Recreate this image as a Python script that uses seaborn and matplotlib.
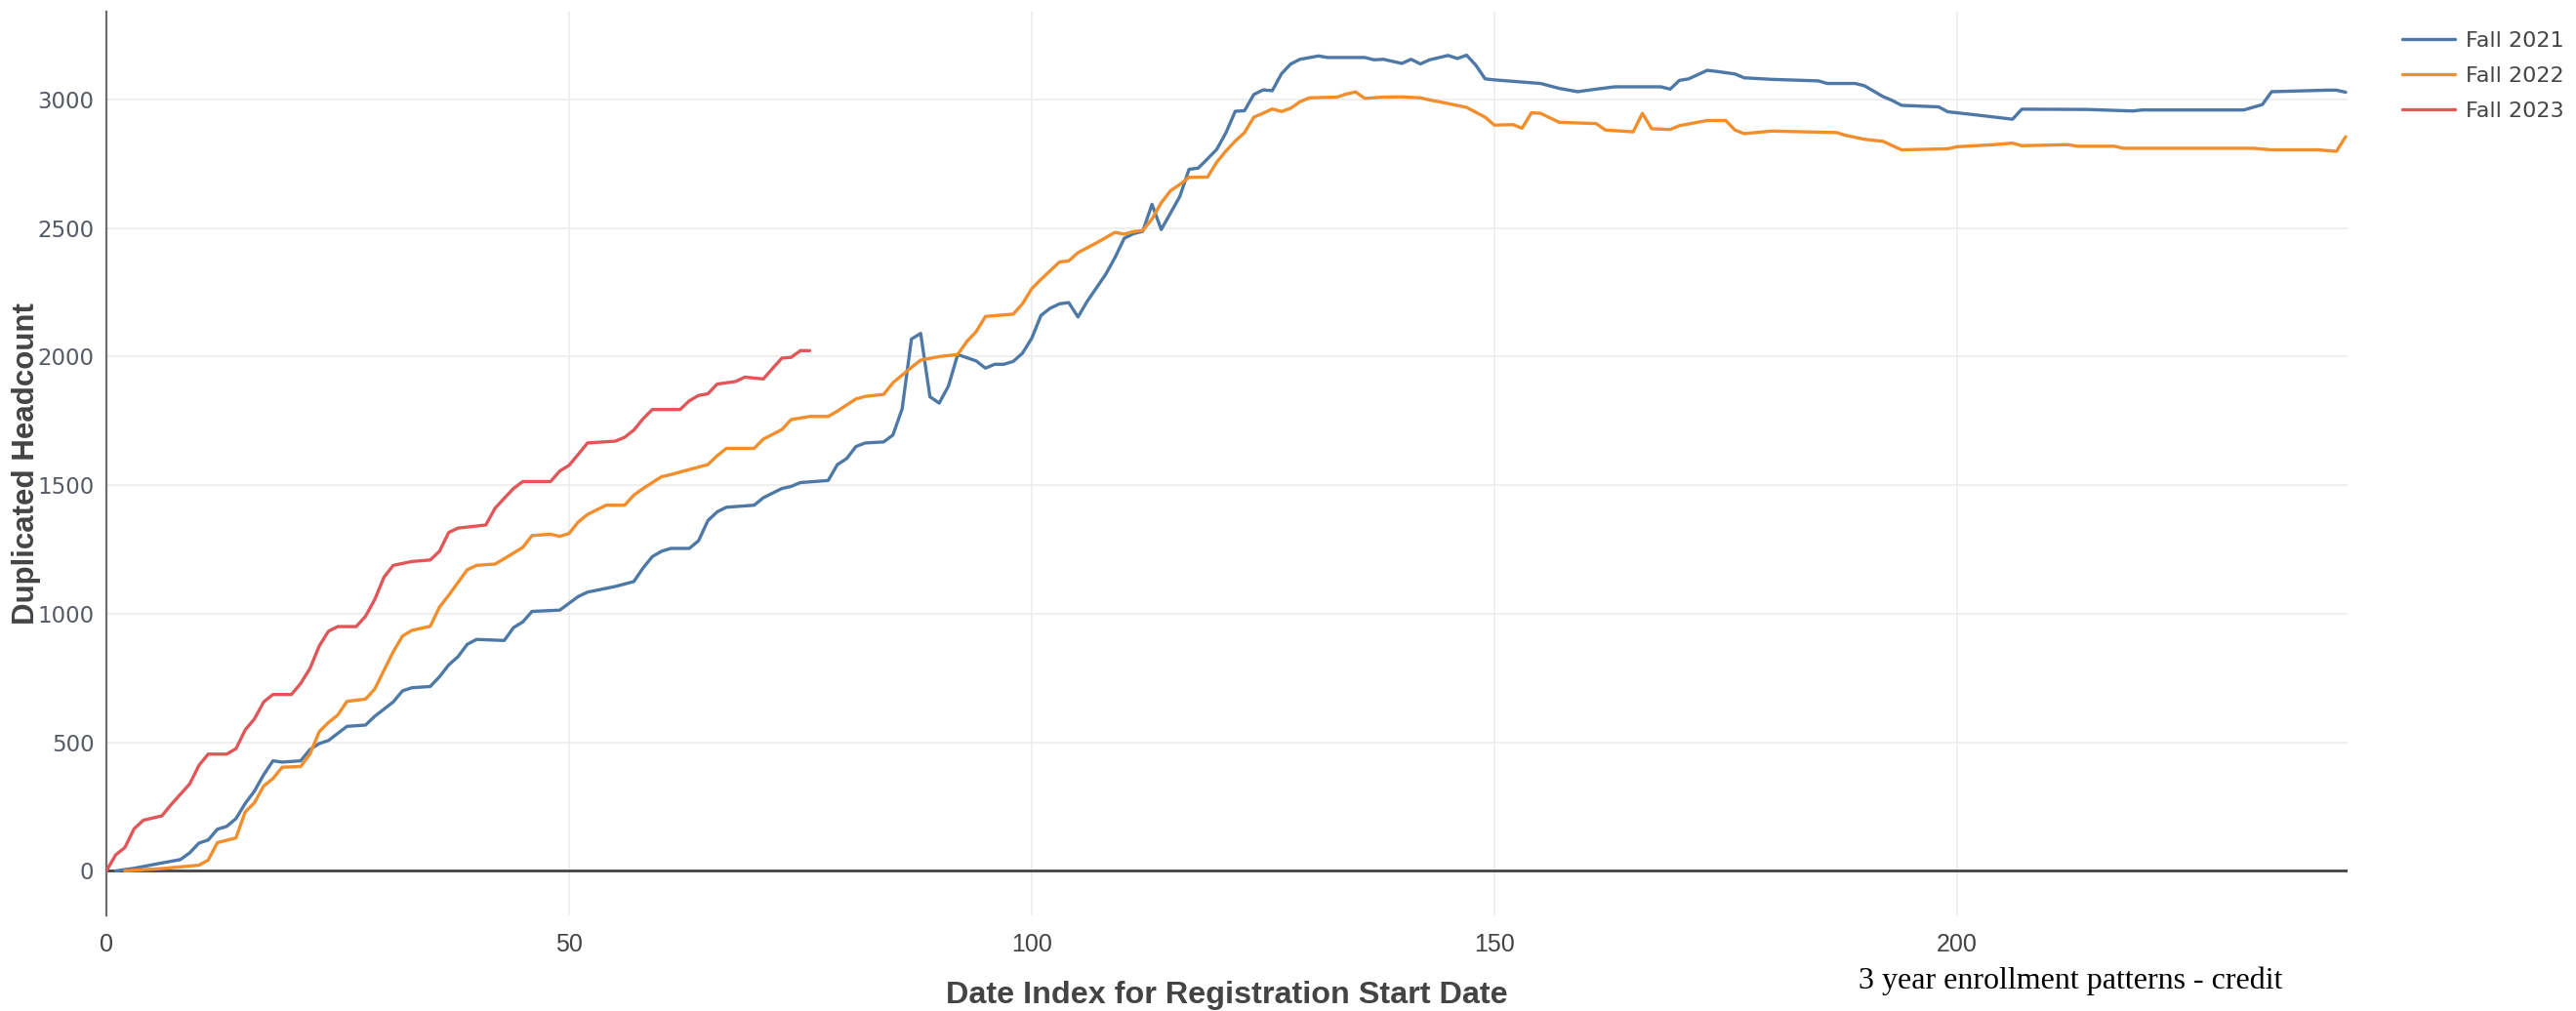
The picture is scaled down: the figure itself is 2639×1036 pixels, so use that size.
import pandas as pd
import matplotlib
matplotlib.use('Agg')
import matplotlib.pyplot as plt
import seaborn as sns

# values (day index -> duplicated headcount)
fall2021_day = [1, 3, 5, 8, 9, 10, 11, 12, 13, 14, 15, 16, 17, 18, 19, 21, 22, 23, 24, 26, 28, 29,
                31, 32, 33, 35, 36, 37, 38, 39, 40, 43, 44, 45, 46, 49, 51, 52, 55, 57, 58, 59, 60,
                61, 63, 64, 65, 66, 67, 70, 71, 73, 74, 75, 78, 79, 80, 81, 82, 84, 85, 86, 87, 88,
                89, 90, 91, 92, 94, 95, 96, 97, 98, 99, 100, 101, 102, 103, 104, 105, 106, 108, 109,
                110, 111, 112, 113, 114, 116, 117, 118, 119, 120, 121, 122, 123, 124, 125, 126, 127,
                128, 129, 131, 132, 136, 137, 138, 140, 141, 142, 143, 145, 146, 147, 148, 149, 150,
                155, 157, 159, 161, 163, 168, 169, 170, 171, 173, 174, 176, 177, 180, 185, 186, 189,
                190, 192, 193, 194, 198, 199, 202, 206, 207, 214, 219, 220, 231, 233, 234, 240, 241, 242]
fall2021_count = [0, 10, 24, 44, 70, 108, 120, 162, 173, 203, 262, 310, 374, 428, 423, 428, 472, 495,
                  507, 562, 567, 601, 657, 700, 712, 717, 755, 801, 833, 881, 900, 896, 946, 968, 1009,
                  1014, 1067, 1084, 1106, 1125, 1178, 1222, 1243, 1254, 1254, 1284, 1362, 1396, 1414,
                  1422, 1451, 1487, 1495, 1510, 1518, 1580, 1603, 1650, 1664, 1668, 1695, 1797, 2068,
                  2090, 1844, 1819, 1885, 2008, 1983, 1955, 1970, 1970, 1981, 2013, 2071, 2160, 2188,
                  2205, 2210, 2154, 2215, 2320, 2385, 2460, 2478, 2487, 2592, 2494, 2622, 2728, 2733,
                  2769, 2806, 2871, 2954, 2956, 3019, 3037, 3034, 3100, 3138, 3156, 3169, 3163, 3163,
                  3154, 3156, 3140, 3156, 3138, 3154, 3171, 3159, 3172, 3133, 3080, 3076, 3062, 3043,
                  3030, 3040, 3049, 3049, 3040, 3074, 3080, 3113, 3109, 3099, 3084, 3078, 3072, 3062,
                  3062, 3053, 3011, 2996, 2977, 2971, 2952, 2940, 2923, 2962, 2961, 2955, 2959, 2959,
                  2980, 3030, 3036, 3036, 3028]

fall2022_day = [2, 6, 10, 11, 12, 14, 15, 16, 17, 18, 19, 21, 22, 23, 24, 25, 26, 28, 29, 30, 31, 32,
                33, 35, 36, 37, 39, 40, 42, 43, 45, 46, 48, 49, 50, 51, 52, 54, 56, 57, 58, 60, 61, 62,
                65, 66, 67, 70, 71, 73, 74, 76, 78, 79, 81, 82, 84, 85, 87, 88, 90, 92, 93, 94, 95, 98,
                99, 100, 101, 103, 104, 105, 107, 109, 110, 111, 112, 113, 114, 115, 116, 117, 119, 120,
                121, 122, 123, 124, 125, 126, 127, 128, 129, 130, 133, 134, 135, 136, 138, 140, 142,
                143, 145, 147, 148, 149, 150, 152, 153, 154, 155, 157, 161, 162, 165, 166, 167, 169,
                170, 173, 175, 176, 177, 180, 187, 188, 190, 192, 194, 199, 200, 204, 206, 207, 212,
                213, 217, 218, 232, 234, 239, 241, 242]
fall2022_count = [0, 9, 22, 42, 110, 128, 229, 265, 330, 359, 403, 406, 454, 541, 577, 606, 659, 668,
                  707, 780, 852, 913, 935, 951, 1026, 1072, 1171, 1188, 1193, 1214, 1258, 1304, 1309,
                  1301, 1312, 1357, 1386, 1422, 1422, 1461, 1487, 1533, 1541, 1551, 1580, 1614, 1643,
                  1643, 1679, 1716, 1755, 1767, 1767, 1788, 1835, 1845, 1853, 1898, 1958, 1986, 2000,
                  2008, 2059, 2097, 2156, 2165, 2205, 2264, 2300, 2368, 2372, 2404, 2442, 2483, 2476,
                  2486, 2490, 2535, 2598, 2645, 2669, 2697, 2698, 2756, 2800, 2838, 2871, 2931, 2946,
                  2963, 2953, 2966, 2991, 3006, 3009, 3021, 3029, 3004, 3009, 3010, 3006, 2998, 2984,
                  2969, 2950, 2931, 2900, 2902, 2888, 2948, 2946, 2911, 2906, 2881, 2874, 2946, 2886,
                  2883, 2898, 2918, 2918, 2881, 2867, 2877, 2871, 2860, 2845, 2837, 2804, 2808, 2816,
                  2824, 2830, 2820, 2824, 2818, 2818, 2810, 2810, 2804, 2804, 2798, 2855]

fall2023_day = [0, 1, 2, 3, 4, 6, 7, 9, 10, 11, 13, 14, 15, 16, 17, 18, 20, 21, 22, 23, 24, 25, 27,
                28, 29, 30, 31, 33, 35, 36, 37, 38, 41, 42, 43, 44, 45, 48, 49, 50, 51, 52, 55, 56,
                57, 58, 59, 62, 63, 64, 65, 66, 68, 69, 71, 72, 73, 74, 75, 76]
fall2023_count = [0, 62, 91, 164, 197, 214, 258, 338, 410, 454, 454, 475, 548, 591, 657, 686, 686,
                  729, 787, 874, 932, 950, 950, 990, 1055, 1142, 1188, 1203, 1209, 1243, 1316, 1333,
                  1345, 1410, 1449, 1487, 1514, 1514, 1555, 1577, 1620, 1664, 1671, 1686, 1714, 1758,
                  1794, 1794, 1828, 1849, 1855, 1893, 1903, 1920, 1913, 1954, 1994, 1997, 2023, 2023]

terms = ['Fall 2021', 'Fall 2022', 'Fall 2023']
colors = ['#4e79a7', '#f28e2b', '#e15759']
x_ticks = [0, 50, 100, 150, 200]
y_ticks = [0, 500, 1000, 1500, 2000, 2500, 3000]

df = pd.concat([
    pd.DataFrame({'day': fall2021_day, 'headcount': fall2021_count, 'term': terms[0]}),
    pd.DataFrame({'day': fall2022_day, 'headcount': fall2022_count, 'term': terms[1]}),
    pd.DataFrame({'day': fall2023_day, 'headcount': fall2023_count, 'term': terms[2]}),
], ignore_index=True)

sns.set_style('white')
plt.rcParams['font.family'] = ['DejaVu Sans']

fig = plt.figure(figsize=(26.39, 10.36), dpi=100)
ax = fig.add_axes([0.0413, 0.0946, 0.8700, 0.8938])

sns.lineplot(data=df, x='day', y='headcount', hue='term', hue_order=terms,
             palette=dict(zip(terms, colors)), linewidth=2.4, estimator=None,
             sort=False, ax=ax, zorder=3)

ax.set_xlim(0, 242.2)
ax.set_ylim(-173, 3341)
ax.set_xticks(x_ticks)
ax.set_yticks(y_ticks)

# plotly-like frame: light grid, dark zero line, left axis line only
ax.grid(True, color='#ececec', linewidth=1.2)
ax.axhline(0, color='#444444', linewidth=2.0, zorder=2)
for side in ['top', 'right', 'bottom']:
    ax.spines[side].set_visible(False)
ax.spines['left'].set_color('#6e6e6e')
ax.spines['left'].set_linewidth(1.6)

ax.tick_params(axis='both', length=0)
ax.tick_params(axis='y', pad=9, labelsize=16.5, labelcolor='#555a63')
ax.tick_params(axis='x', pad=13, labelsize=18, labelcolor='#444444')
for lbl in ax.get_xticklabels():
    lbl.set_family('Liberation Sans')

ax.set_xlabel('Date Index for Registration Start Date', fontsize=23.3, fontweight='bold',
              color='#444444', family='Liberation Sans')
ax.set_ylabel('Duplicated Headcount', fontsize=22.5, fontweight='bold',
              color='#444444', family='Liberation Sans')
ax.xaxis.set_label_coords(0.5, -0.072)
ax.yaxis.set_label_coords(-0.029, 0.5)

sns.move_legend(ax, 'upper left', bbox_to_anchor=(0.9325, 0.969),
                bbox_transform=fig.transFigure, frameon=False, title=None,
                fontsize=16, handlelength=2.45, handletextpad=0.5,
                labelspacing=0.72, borderpad=0, borderaxespad=0)
for txt in ax.get_legend().get_texts():
    txt.set_color('#444444')

fig.text(0.8037, 0.0299, '3 year enrollment patterns - credit', ha='center', va='center',
         fontsize=23, family='Liberation Serif', color='black')

fig.savefig('out.png', dpi=100)
